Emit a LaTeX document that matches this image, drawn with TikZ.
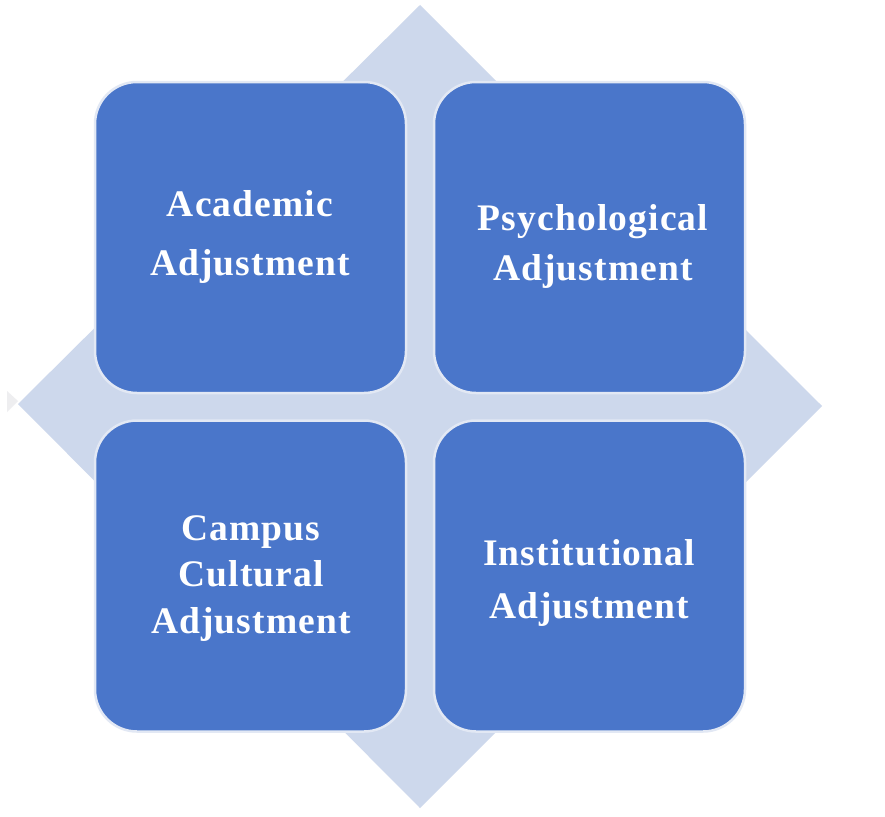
\documentclass[tikz,border=0pt]{standalone}
\usepackage{fontspec}
\setmainfont{Liberation Serif}
\newfontfamily\boxfont[LetterSpace=3]{Liberation Serif}
\definecolor{diamondfill}{RGB}{205,216,236}
\definecolor{boxfill}{RGB}{74,118,202}
\definecolor{boxrim}{RGB}{226,232,244}
\definecolor{artifact}{RGB}{238,238,240}
\begin{document}
\begin{tikzpicture}[x=1pt,y=-1pt,
  tile/.style={draw=boxrim, line width=2.5pt, fill=boxfill, rounded corners=42pt, minimum width=311pt, minimum height=311pt, inner sep=0pt},
  tiletext/.style={text=white, font=\boxfont\bfseries\fontsize{37.5}{#1}\selectfont, align=center, inner sep=0pt, anchor=base}
]
\useasboundingbox (0,0) rectangle (885,816);
\fill[white] (0,0) rectangle (885,816);
% background diamond
\fill[diamondfill] (420,5) -- (822,406) -- (420,808) -- (18,404) -- cycle;
% small artifact triangle at left edge
\fill[artifact] (7,391) -- (18,401) -- (7,412) -- cycle;
% tiles
\node[tile] (ta) at (250.5,237.5) {};
\node[tile] (tp) at (589.5,237.5) {};
\node[tile] (tc) at (250.5,576) {};
\node[tile] (ti) at (589.5,576) {};
% texts (anchor base = baseline of last line)
\node[tiletext=59] (xa) at (250,275) {Academic\\Adjustment};
\node[tiletext=50] (xp) at (593,280) {Psychological\\Adjustment};
\node[tiletext=46.5] (xc) at (251,633) {Campus\\Cultural\\Adjustment};
\node[tiletext=53] (xi) at (589,618) {Institutional\\Adjustment};
\end{tikzpicture}
\end{document}
